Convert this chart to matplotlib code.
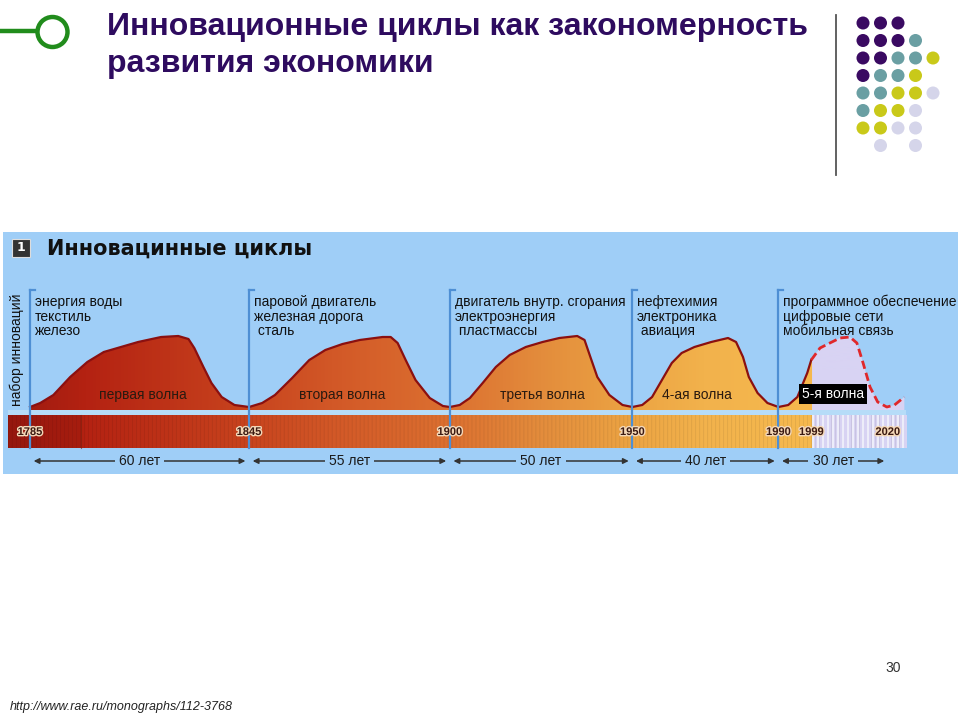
"""
Slide: innovation cycles (Kondratiev waves) chart recreation
Output: out.png (960x720)
"""

import numpy as np
import matplotlib
matplotlib.use('Agg')
import matplotlib.pyplot as plt
from matplotlib.patches import Polygon, Rectangle, Circle
from matplotlib.colors import LinearSegmentedColormap, Normalize
from matplotlib import font_manager as fm
import matplotlib.patheffects as pe

names = {f.name for f in fm.fontManager.ttflist}
SANS = 'Liberation Sans' if 'Liberation Sans' in names else 'DejaVu Sans'
NARROW = 'Liberation Sans Narrow' if 'Liberation Sans Narrow' in names else SANS

# ---- data ----
epochs = [1785, 1845, 1900, 1950, 1990]
epoch_ends = [1845, 1900, 1950, 1990, 2020]
durations = ['60 лет', '55 лет', '50 лет', '40 лет', '30 лет']
year_labels = [1785, 1845, 1900, 1950, 1990, 1999, 2020]
forecast_from = 1999
wave_names = ['первая волна', 'вторая волна', 'третья волна', '4-ая волна', '5-я волна']
innovations = [
    ['энергия воды', 'текстиль', 'железо'],
    ['паровой двигатель', 'железная дорога', ' сталь'],
    ['двигатель внутр. сгорания', 'электроэнергия', ' пластмассы'],
    ['нефтехимия', 'электроника', ' авиация'],
    ['программное обеспечение', 'цифровые сети', 'мобильная связь'],
]

w1_years = [1785, 1787.8, 1791.4, 1796, 1800.7, 1805.2, 1809.9, 1814.6, 1820.9,
            1825.6, 1828.4, 1830, 1832.5, 1834.7, 1837.5, 1841, 1845]
w1_level = [3, 7, 15, 33, 48, 58, 63, 68, 73, 74, 71, 62, 43, 27, 13, 5, 3]

w2_years = [1845, 1848.6, 1852.1, 1856.8, 1861.5, 1865.9, 1870.6, 1875.3, 1881.6,
            1883.8, 1885.7, 1887.9, 1890.6, 1894.5, 1898.1, 1900]
w2_level = [3, 7, 15, 32, 50, 60, 66, 70, 73, 73, 67, 50, 30, 12, 4, 3]

w3_years = [1900, 1902.7, 1905.5, 1909, 1912.6, 1916.4, 1920.8, 1925.4, 1930,
            1934.9, 1936.9, 1938.5, 1940.4, 1943.7, 1947.3, 1950]
w3_level = [3, 5, 12, 27, 43, 55, 63, 68, 72, 74, 70, 53, 33, 15, 5, 3]

w4_years = [1950, 1952.7, 1955.4, 1958.1, 1960.8, 1963.5, 1967, 1971.6, 1976.2,
            1978.4, 1980.3, 1981.9, 1984.3, 1987, 1990]
w4_level = [3, 5, 13, 30, 47, 57, 63, 68, 72, 68, 53, 33, 17, 7, 3]

w5_years = [1990, 1992.7, 1995.2, 1997.9, 1999, 2001.4, 2004.1, 2006.9, 2009.6,
            2011.5, 2013.2, 2015.1, 2017.2, 2019.7, 2021.8, 2024.5]
w5_level = [3, 5, 13, 37, 50, 62, 67, 72, 73, 67, 47, 23, 8, 3, 5, 13]

waves = [(w1_years, w1_level), (w2_years, w2_level), (w3_years, w3_level),
         (w4_years, w4_level), (w5_years, w5_level)]

# slide decoration: dot grid colours (rows top to bottom)
P, T, Y, L = '#3a0a62', '#6a9fa3', '#c9c919', '#d5d5ea'
dot_rows = [
    [P, P, P, None, None],
    [P, P, P, T, None],
    [P, P, T, T, Y],
    [P, T, T, Y, None],
    [T, T, Y, Y, L],
    [T, Y, Y, L, None],
    [Y, Y, L, L, None],
    [None, L, None, L, None],
]

# ---- figure ----
fig = plt.figure(figsize=(9.6, 7.2), dpi=100, facecolor='white')
bg = fig.add_axes([0, 0, 1, 1])
bg.set_xlim(0, 960)
bg.set_ylim(720, 0)
bg.axis('off')

# green connector + circle
bg.plot([0, 37], [31, 31], color='#218c1c', lw=3.2, solid_capstyle='butt')
bg.add_patch(Circle((52.5, 32), 15, fill=False, ec='#218c1c', lw=3.2))

# title
title_kw = dict(fontsize=23, fontweight='bold', color='#2e0b5f', family=NARROW,
                va='baseline', ha='left')
bg.text(107, 35, 'Инновационные циклы как закономерность', **title_kw)
bg.text(107, 72, 'развития экономики', **title_kw)

# dots + divider
bg.plot([836, 836], [15, 175], color='#555555', lw=1.3)
for r, row in enumerate(dot_rows):
    for c, col in enumerate(row):
        if col:
            bg.scatter(863 + 17.5 * c, 23 + 17.5 * r, s=88, color=col,
                       edgecolors='none', zorder=3)

# footer
bg.text(893, 668, '30', fontsize=10, color='#333333', ha='center', va='center',
        family=SANS)
bg.text(10, 707, 'http://www.rae.ru/monographs/112-3768', fontsize=9,
        style='italic', color='#222222', ha='left', va='center', family=SANS)

# panel background
PANEL = '#9fcef7'
bg.add_patch(Rectangle((3, 232), 955, 242, fc=PANEL, ec='none'))

# ---- chart panel (years vs level) ----
ax = fig.add_axes([3 / 960, 1 - 474 / 720, 955 / 960, 242 / 720])
ax.axis('off')

stops = [(1779, '#9c1a10'), (1800, '#b42212'), (1845, '#c8441e'),
         (1870, '#d35a28'), (1900, '#dc7030'), (1925, '#e38c3c'),
         (1950, '#eca443'), (1970, '#f2b24c'), (1999, '#f6b94e'),
         (1999.05, '#d8d3f3'), (2025, '#d8d3f3')]
y0, y1 = stops[0][0], stops[-1][0]
cmap = LinearSegmentedColormap.from_list(
    'waves', [((s - y0) / (y1 - y0), c) for s, c in stops])
norm = Normalize(y0, y1)
cols = np.linspace(y0, y1, 900)

# wave fills (gradient clipped to each wave)
for xs, ys in waves:
    poly = Polygon(np.column_stack([xs + [xs[-1], xs[0]], ys + [0, 0]]),
                   closed=True, fc='none', ec='none')
    ax.add_patch(poly)
    im = ax.imshow(cols[None, :], extent=[y0, y1, 0, 80], aspect='auto',
                   cmap=cmap, norm=norm, origin='lower', zorder=2)
    im.set_clip_path(poly)

# outlines
for xs, ys in waves[:4]:
    ax.plot(xs, ys, color='#8b1010', lw=1.6, zorder=3, solid_joinstyle='round')
k = w5_years.index(forecast_from)
ax.plot(w5_years[:k + 1], w5_level[:k + 1], color='#8b1010', lw=1.6, zorder=3)
ax.plot(w5_years[k:], w5_level[k:], color='#e0282a', lw=2, ls=(0, (3, 1.5)),
        zorder=3)

# light gap + timeline strip
ax.add_patch(Rectangle((y0, -5), y1 - y0, 5, fc='#b6dcf8', ec='none', zorder=1))
rgb = cmap(norm(cols))[None, :, :3].copy()
stripe = 1 - 0.07 * ((np.arange(cols.size) % 4) == 0)
rgb[0] *= stripe[:, None]
lav = cols > forecast_from
rgb[0, lav] = np.where(((np.arange(cols.size) % 5) < 2)[lav, None],
                       [0.93, 0.93, 0.98], rgb[0, lav])
ax.imshow(rgb, extent=[y0, y1, -38, -5], aspect='auto', zorder=2)
ax.add_patch(Rectangle((y0, -38), 1799 - y0, 33, fc='#7a0c06', alpha=0.2,
                       ec='none', zorder=2.5))
ax.plot([1799, 1799], [-38, -5], color='#7a2010', lw=0.8, alpha=0.6, zorder=2.6)

# epoch markers with bracket hooks
for e in epochs:
    ax.plot([e, e], [-38, 120], color='#4e8fd4', lw=1.6, zorder=4)
    ax.plot([e, e + 1.3], [120, 120], color='#4e8fd4', lw=1.6, zorder=4)

# innovation labels
for e, lines in zip(epochs, innovations):
    for i, line in enumerate(lines):
        ax.text(e + 1.3, [108, 93, 79][i], line, fontsize=10, family=SANS,
                color='#111111', ha='left', va='center', zorder=5)

# wave names
mids = [1816, 1870.5, 1925.5, 1967.7]
for m, name in zip(mids, wave_names[:4]):
    ax.text(m, 15, name, fontsize=10, family=SANS, color='#2a1a10',
            ha='center', va='center', zorder=5)
ax.text(2005, 16, wave_names[4], fontsize=10, family=SANS, color='white',
        ha='center', va='center', zorder=6,
        bbox=dict(boxstyle='square,pad=0.2', fc='black', ec='none'))

# years in strip
for yr in year_labels:
    ax.text(yr, -22, str(yr), fontsize=8, fontweight='bold', family=SANS,
            color='#3b1a12', ha='center', va='center', zorder=5,
            path_effects=[pe.withStroke(linewidth=2, foreground='#f4d8b8')])

# duration arrows
for s, e, d in zip(epochs, epoch_ends, durations):
    ax.annotate('', xy=(e - 1, -51), xytext=(s + 1, -51), zorder=4,
                arrowprops=dict(arrowstyle='<|-|>', color='#333333', lw=1.1,
                                mutation_scale=8, shrinkA=0, shrinkB=0))
    ax.text((s + e) / 2, -51, d, fontsize=10, family=SANS, color='#1a1a1a',
            ha='center', va='center', zorder=5,
            bbox=dict(boxstyle='square,pad=0.3', fc=PANEL, ec='none'))

# y label
ax.text(1781.3, 60, 'набор инноваций', rotation=90, fontsize=10, family=SANS,
        color='#111111', ha='center', va='center', zorder=5)

# header of the embedded figure
ax.add_patch(Rectangle((0.0094, 0.897), 0.019, 0.074, transform=ax.transAxes,
                       fc='#333333', ec='#dddddd', lw=0.8, zorder=5))
ax.text(0.0188, 0.934, '1', transform=ax.transAxes, fontsize=9,
        fontweight='bold', color='white', ha='center', va='center', zorder=6)
ax.text(0.046, 0.930, 'Инновацинные циклы', transform=ax.transAxes,
        fontsize=15, fontweight='bold', family='DejaVu Sans', color='#111111',
        ha='left', va='center', zorder=5)

ax.set_xlim(1777.6, 2039.2)
ax.set_ylim(-64, 178)

fig.savefig('out.png', dpi=100, facecolor='white')
plt.close(fig)
